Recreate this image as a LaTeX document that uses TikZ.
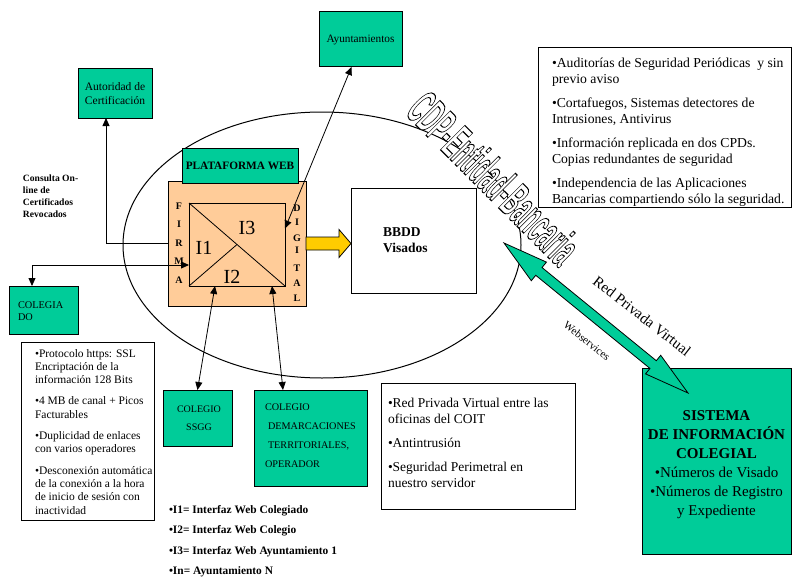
\documentclass[tikz,border=0pt]{standalone}
\usepackage{fontspec}
\setmainfont{Liberation Serif}
\newfontfamily\cdpfont{Liberation Sans}
\usetikzlibrary{arrows.meta,calc}
\definecolor{grn}{HTML}{00CC99}
\definecolor{peach}{HTML}{FFCC99}
\definecolor{ylw}{HTML}{FFCC00}
\newcommand{\fs}[2]{\fontsize{#1}{#2}\selectfont}
\begin{document}
\begin{tikzpicture}[x=1pt,y=-1pt,
  box/.style={draw, line width=1pt, inner sep=0pt, outer sep=0pt, rectangle},
  gbox/.style={box, fill=grn},
  txt/.style={inner sep=0pt, outer sep=0pt, align=left, anchor=north west},
  tip/.style={-{Triangle[length=8pt,width=7pt]}, line width=0.8pt},
  dtip/.style={{Triangle[length=8pt,width=7pt]}-{Triangle[length=8pt,width=7pt]}, line width=0.8pt},
  letter/.style={inner sep=0pt, font=\fs{10}{10}\bfseries},
  ilab/.style={inner sep=0pt, font=\fs{20}{20}},
]
\useasboundingbox (0,0) rectangle (792,578);
\draw[line width=1pt] (322,245) ellipse [x radius=199, y radius=133];

% top boxes
\node[gbox, minimum width=83pt, minimum height=55pt, font=\fs{11.3}{13}] (ayto) at (360.5,39.5) {Ayuntamientos};
\node[gbox, minimum width=74pt, minimum height=49pt, align=center, font=\fs{11.5}{14}] (auto) at (115,93.5) {Autoridad de\\Certificación};

% platform
\node[box, fill=peach, minimum width=138pt, minimum height=125pt] (plat) at (237,243.5) {};
\node[gbox, minimum width=116pt, minimum height=35pt, font=\fs{11.3}{13}\bfseries] (pw) at (240,165.5) {PLATAFORMA WEB};
\node[box, line width=0.8pt, minimum width=96pt, minimum height=83pt] (sq) at (237,244.5) {};
\draw[line width=0.8pt] (sq.north west) -- (sq.south east);
\draw[line width=0.8pt] (sq.south west) -- (sq.center);
\node[ilab] (i1) at (204,248) {I1};
\node[ilab] (i2) at (232,277) {I2};
\node[ilab] (i3) at (247,228) {I3};
\node[letter] (f1) at (179,206) {F};
\node[letter] (f2) at (179,224) {I};
\node[letter] (f3) at (179,243) {R};
\node[letter] (f4) at (179,261) {M};
\node[letter] (f5) at (179,280) {A};
\node[letter] (d1) at (297,208) {D};
\node[letter] (d2) at (297,222) {I};
\node[letter] (d3) at (297,238) {G};
\node[letter] (d4) at (297,250) {I};
\node[letter] (d5) at (297,268) {T};
\node[letter] (d6) at (297,283) {A};
\node[letter] (d7) at (297,298) {L};

% BBDD
\node[box, fill=white, minimum width=125pt, minimum height=105pt] (bbdd) at (413.5,240.5) {};
\node[txt, font=\fs{13.5}{16}\bfseries] (bbddt) at (383,224.8) {\strut BBDD\\Visados};
\coordinate (ya) at (plat.east);
\coordinate (yb) at (bbdd.west |- plat.east);
\draw[fill=ylw, line width=0.8pt] ([yshift=6.5pt]ya) -- ([xshift=-12pt,yshift=6.5pt]yb) -- ([xshift=-12pt,yshift=14pt]yb) -- (yb) -- ([xshift=-12pt,yshift=-14pt]yb) -- ([xshift=-12pt,yshift=-6.5pt]yb) -- ([yshift=-6.5pt]ya) -- cycle;

% left side
\node[txt, font=\fs{9.6}{12.3}\bfseries] (consulta) at (23,172.4) {\strut Consulta On-\\line de\\Certificados\\Revocados};
\node[gbox, minimum width=69pt, minimum height=48pt] (coleg) at (43.5,310) {};
\node[txt, font=\fs{10.3}{12}] (colegt) at (18,299.6) {\strut COLEGIA\\DO};
\node[box, minimum width=133pt, minimum height=178pt] (prot) at (87.5,431) {};
\node[txt, font=\fs{11.5}{13.3}] (prott) at (35,347.7) {\strut •Protocolo https: SSL\\Encriptación de la\\información 128 Bits\\[8pt]•4 MB de canal + Picos\\Facturables\\[8pt]•Duplicidad de enlaces\\con varios operadores\\[8pt]•Desconexión automática\\de la conexión a la hora\\de inicio de sesión con\\inactividad};

% bottom colegio boxes
\node[gbox, minimum width=69pt, minimum height=56pt] (ssgg) at (197.5,418) {};
\node[inner sep=0pt, align=center, anchor=north, font=\fs{10}{18}] (ssggt) at (199,399.4) {\strut COLEGIO\\SSGG};
\node[gbox, minimum width=113pt, minimum height=96pt] (demarc) at (310.5,438) {};
\node[txt, font=\fs{10.2}{18.7}] (demarct) at (265,397.9) {\strut COLEGIO\\\hspace*{3pt}DEMARCACIONES\\\hspace*{3pt}TERRITORIALES,\\OPERADOR};

\node[txt, font=\fs{11.4}{20.5}\bfseries] (legend) at (169,498.7) {\strut •I1= Interfaz Web Colegiado\\•I2= Interfaz Web Colegio\\•I3= Interfaz Web Ayuntamiento 1\\•In= Ayuntamiento N};

% middle box
\node[box, minimum width=194pt, minimum height=126pt] (rpv) at (478,446) {};
\node[txt, font=\fs{13.5}{16}] (rpvt) at (388,395.8) {\strut •Red Privada Virtual entre las\\oficinas del COIT\\[8pt]•Antintrusión\\[8pt]•Seguridad Perimetral en\\nuestro servidor};

% right box
\node[box, minimum width=253pt, minimum height=159pt] (aud) at (664.5,127.5) {};
\node[txt, font=\fs{13.7}{16}] (audt) at (552,55.8) {\strut •Auditorías de Seguridad Periódicas\ \ y sin\\previo aviso\\[8pt]•Cortafuegos, Sistemas detectores de\\Intrusiones, Antivirus\\[8pt]•Información replicada en dos CPDs.\\Copias redundantes de seguridad\\[8pt]•Independencia de las Aplicaciones\\Bancarias compartiendo sólo la seguridad.};

% sistema
\node[gbox, minimum width=149pt, minimum height=186pt] (sis) at (716.5,461) {};
\node[inner sep=0pt, align=center, anchor=north, font=\fs{15}{19}] (sist) at (716.5,406.7) {\strut\textbf{SISTEMA}\\\textbf{DE INFORMACIÓN}\\\textbf{COLEGIAL}\\•Números de Visado\\•Números de Registro\\y Expediente};

% CDP wordart
\node[rotate=-45, inner sep=0pt] (cdp) at (494,178) {\cdpfont\bfseries\fs{50}{50}\scalebox{0.41}[1]{\color{white}\special{pdf:literal direct 0 G 2 Tr 1.1 w}CDP-Entidad-Bancaria\special{pdf:literal direct 0 Tr}}};

% green double arrow
\coordinate (ga) at (504,243);
\coordinate (gb) at (688,393);
\coordinate (h1) at ($(ga)!45pt!(gb)$);
\coordinate (h2) at ($(gb)!45pt!(ga)$);
\draw[fill=grn, line width=0.8pt] (ga) -- ($(h1)!12pt!90:(gb)$) -- ($(h1)!5pt!90:(gb)$) -- ($(h2)!5pt!-90:(ga)$) -- ($(h2)!12pt!-90:(ga)$) -- (gb) -- ($(h2)!12pt!90:(ga)$) -- ($(h2)!5pt!90:(ga)$) -- ($(h1)!5pt!-90:(gb)$) -- ($(h1)!12pt!-90:(gb)$) -- cycle;
\node[rotate=-38, inner sep=0pt, font=\fs{15}{15}] (rpvlab) at (642,316) {Red Privada Virtual};
\node[rotate=-38, inner sep=0pt, font=\fs{11}{11}] (wslab) at (587,341) {Webservices};

% connectors
\draw[tip] (plat.west) -| ([xshift=-9pt]auto.south);
\draw[dtip] ([yshift=-20.5pt]sq.west) -| ([xshift=-11.5pt]coleg.north);
\draw[dtip] ([yshift=16pt]sq.east) -- ([xshift=-9pt]ayto.south);
\draw[dtip] ([xshift=-22pt]sq.south) -- (ssgg.north);
\draw[dtip] ([xshift=35pt]sq.south) -- ([xshift=-27.5pt]demarc.north);
\end{tikzpicture}
\end{document}
